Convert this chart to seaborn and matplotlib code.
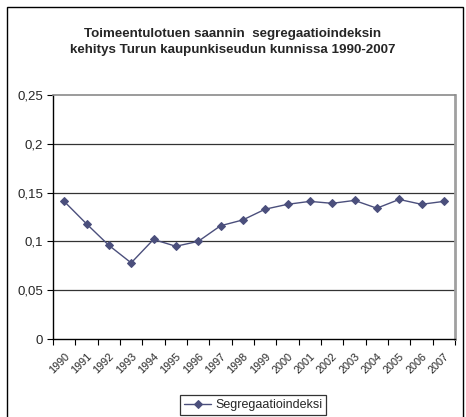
import numpy as np
import pandas as pd
import matplotlib
matplotlib.use("Agg")
import matplotlib.pyplot as plt
import seaborn as sns
from matplotlib.patches import Rectangle

# ------------------------------------------------------------
# data
# ------------------------------------------------------------
vuodet = ["1990", "1991", "1992", "1993", "1994", "1995", "1996", "1997", "1998",
          "1999", "2000", "2001", "2002", "2003", "2004", "2005", "2006", "2007"]
indeksi = [0.141, 0.118, 0.096, 0.078, 0.102, 0.095, 0.100, 0.116, 0.122,
           0.133, 0.138, 0.141, 0.139, 0.142, 0.134, 0.143, 0.138, 0.141]
y_ticks = [0, 0.05, 0.1, 0.15, 0.2, 0.25]
y_labels = ["0", "0,05", "0,1", "0,15", "0,2", "0,25"]
sarja = "Segregaatioindeksi"
otsikko = ("Toimeentulotuen saannin  segregaatioindeksin\n"
           "kehitys Turun kaupunkiseudun kunnissa 1990-2007")

df = pd.DataFrame({"vuosi": vuodet, "arvo": indeksi})

sns.set_style("white")
plt.rcParams['font.family'] = ['Liberation Sans', 'DejaVu Sans']

fig = plt.figure(figsize=(4.66, 4.17), dpi=100)
ax = fig.add_axes([53/466, 1 - 339/417, (455 - 53)/466, (339 - 95)/417])

line_col = "#4b4f7c"
sns.lineplot(data=df, x="vuosi", y="arvo", ax=ax, color=line_col, lw=1,
             marker="D", markersize=4, markeredgecolor=line_col, label=sarja,
             legend=False)

# gridlines
for yv in y_ticks[1:-1]:
    ax.axhline(yv, color="#333333", lw=0.9, zorder=0)

ax.set_xlim(-0.5, len(vuodet) - 0.5)
ax.set_ylim(0, 0.25)
ax.set_yticks(y_ticks)
ax.set_yticklabels(y_labels, fontsize=9.5)
ax.set_xlabel("")
ax.set_ylabel("")

# category axis: tick marks at boundaries, labels at centres
ax.set_xticks(np.arange(len(vuodet)))
ax.set_xticklabels(vuodet, fontsize=7.8, rotation=45, ha="right",
                   rotation_mode="anchor")
ax.set_xticks(np.arange(len(vuodet) + 1) - 0.5, minor=True)
ax.tick_params(axis="x", which="major", length=0, pad=9)
ax.tick_params(axis="x", which="minor", length=4, width=0.8, color="black",
               direction="out", bottom=True)
ax.tick_params(axis="y", length=4, width=0.8, color="black", direction="out",
               left=True, pad=3)

for side in ["left", "bottom"]:
    ax.spines[side].set_color("black")
    ax.spines[side].set_linewidth(1)
ax.spines["top"].set_color("#8a8a8a")
ax.spines["top"].set_linewidth(1.2)
ax.spines["right"].set_color("#a0a0a0")
ax.spines["right"].set_linewidth(2)

fig.text(233/466, 1 - 42/417, otsikko, ha="center", va="center",
         fontsize=9.6, fontweight="bold", linespacing=1.4)

handles, labels = ax.get_legend_handles_labels()
leg = fig.legend(handles, labels, loc="center", bbox_to_anchor=(253/466, 1 - 405/417),
                 fontsize=9, frameon=True, fancybox=False, borderpad=0.3,
                 handlelength=2.2, handletextpad=0.3)
leg.get_frame().set_edgecolor("black")
leg.get_frame().set_linewidth(0.9)

# outer chart frame
fig.patches.append(Rectangle((7/466, -0.1), (463 - 7)/466, 1.1 - 7/417,
                             transform=fig.transFigure, fill=False,
                             edgecolor="black", lw=1))

fig.savefig("out.png", dpi=100)
